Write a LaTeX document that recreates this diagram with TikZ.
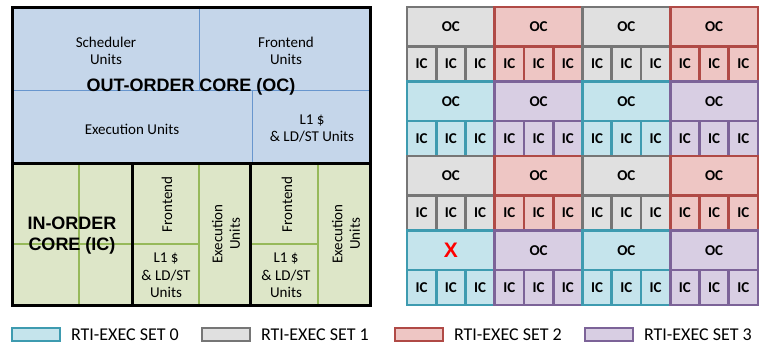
\documentclass[tikz,border=0pt]{standalone}
\usepackage{fontspec}
\setmainfont{Carlito}
\newfontfamily\headfont{Liberation Sans}
\usetikzlibrary{positioning}

\definecolor{ocfill}{RGB}{197,214,234}
\definecolor{ocline}{RGB}{104,150,206}
\definecolor{icfill}{RGB}{221,230,200}
\definecolor{icline}{RGB}{150,185,90}
\definecolor{setfill0}{RGB}{197,228,236}
\definecolor{setline0}{RGB}{62,155,176}
\definecolor{setfill1}{RGB}{224,224,224}
\definecolor{setline1}{RGB}{118,118,118}
\definecolor{setfill2}{RGB}{238,198,196}
\definecolor{setline2}{RGB}{176,74,70}
\definecolor{setfill3}{RGB}{216,206,227}
\definecolor{setline3}{RGB}{124,99,152}

\begin{document}
\begin{tikzpicture}[x=1pt,y=-1pt,inner sep=0pt,outer sep=0pt,
    font=\fontsize{15}{17.5}\selectfont,align=center]
       \tikzstyle{cell}=[draw,line width=2.8pt,font=\fontsize{15}{17}\selectfont\bfseries]
       \tikzstyle{oc cell}=[cell,minimum width=87.75pt,minimum height=39.5pt]
       \tikzstyle{ic cell}=[cell,minimum width=29.25pt,minimum height=35pt]
       \tikzstyle{set0}=[fill=setfill0,draw=setline0]
       \tikzstyle{set1}=[fill=setfill1,draw=setline1]
       \tikzstyle{set2}=[fill=setfill2,draw=setline2]
       \tikzstyle{set3}=[fill=setfill3,draw=setline3]
       \tikzstyle{core title}=[font=\headfont\fontsize{18}{21}\selectfont\bfseries]
       \tikzstyle{key}=[draw,line width=2.2pt,minimum width=48pt,minimum height=13pt]
       \tikzstyle{key text}=[font=\fontsize{18}{20}\selectfont,anchor=west]

       \useasboundingbox (0,0) rectangle (772,348);

       % out-order core
       \fill[ocfill] (12,7) rectangle (370,163);
       \draw[ocline,line width=1pt] (199,7) -- (199,90) (12,90) -- (370,90) (252,90) -- (252,163);
       % in-order cores
       \fill[icfill] (12,163) rectangle (370,305);
       \draw[icline,line width=1.2pt]
         (79,163) -- (79,305) (12,244) -- (132,244)
         (199,163) -- (199,305) (132,244) -- (199,244)
         (318,163) -- (318,305) (250,244) -- (318,244);
       \draw[line width=3pt] (12,7) rectangle (370,305)
         (12,163) -- (370,163) (132,163) -- (132,305) (250,163) -- (250,305);

       \node (sched) at (106,51) {Scheduler\\Units};
       \node (oc_front) at (286,51) {Frontend\\Units};
       \node (oc_exec) at (132,129) {Execution Units};
       \node (oc_l1) at (312,128.5) {L1 \$\\ \& LD/ST Units};
       \node[core title] (oc_title) at (191,87) {OUT-ORDER CORE (OC)};
       \node[core title] (ic_title) at (72,236) {IN-ORDER\\CORE (IC)};

       \foreach \b/\x in {1/167,2/287} {
         \node[rotate=90] (ic_front_\b) at (\x,204.5) {Frontend};
         \node[rotate=90] (ic_exec_\b) at (\x+59,234) {Execution\\Units};
         \node (ic_l1_\b) at (\x-1,275.5) {L1 \$\\\& LD/ST\\Units};
       }

       % grid of cores
       \foreach \r in {0,...,3} {
         \foreach \c in {0,...,3} {
           \pgfmathtruncatemacro\s{mod(\r,2)==0 ? 1+mod(\c,2) : 3*mod(\c,2)}
           \node[oc cell,set\s] (oc_\r_\c) at (450.875+87.75*\c,26.75+74.5*\r)
             {\ifnum\r\c=30 {\headfont\fontsize{21}{21}\selectfont\color{red}X}\else OC\fi};
           \foreach \k in {0,1,2}
             \node[ic cell,set\s] (ic_\r_\c_\k) at (421.625+87.75*\c+29.25*\k,64+74.5*\r) {IC};
         }
       }

       % legend
       \foreach \i/\x in {0/36,1/226,2/419,3/609} {
         \node[key,set\i] (key_\i) at (\x,334.5) {};
         \node[key text,right=11pt of key_\i] (lab_\i) {RTI-EXEC SET \i};
       }

     \end{tikzpicture}
\end{document}
